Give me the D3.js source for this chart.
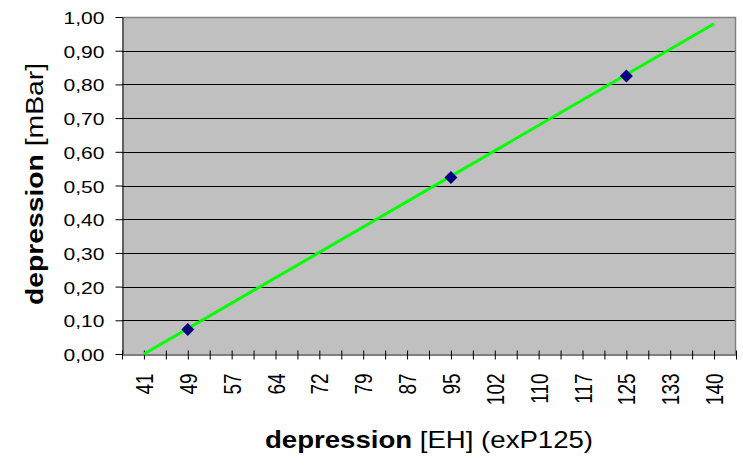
<!DOCTYPE html>
<html>
<head>
<meta charset="utf-8">
<script src="https://cdn.jsdelivr.net/npm/d3@7"></script>
<style>
  html, body { margin: 0; padding: 0; background: #ffffff; }
  svg { display: block; }
  text { font-family: "Liberation Sans", Arial, sans-serif; fill: #000; }
</style>
</head>
<body>
<svg id="chart" width="743" height="465"></svg>
<script>
// ---- data ----
// category slots along the x axis (only every second one carries a label)
const categories = ["", "41", "", "49", "", "57", "", "64", "", "72", "", "79", "", "87", "",
                    "95", "", "102", "", "110", "", "117", "", "125", "", "133", "", "140", ""];
// fitted line (green)
const lineCats = ["41", "140"];
const lineValues = [0.00, 0.98];
// measured points (navy diamonds)
const pointCats = ["49", "95", "125"];
const pointValues = [0.073, 0.524, 0.825];
// y tick values
const yTicks = [0, 0.1, 0.2, 0.3, 0.4, 0.5, 0.6, 0.7, 0.8, 0.9, 1.0];
const xTitleBold = "depression";
const xTitleRest = " [EH] (exP125)";
const yTitleBold = "depression";
const yTitleRest = " [mBar]";

// ---- layout ----
const svg = d3.select("#chart");
const plot = { left: 122, right: 736, top: 17, bottom: 354 };

const x = d3.scalePoint()
  .domain(d3.range(categories.length))
  .range([plot.left, plot.right]);
const y = d3.scaleLinear().domain([0, 1]).range([plot.bottom, plot.top]);
const idx = c => categories.indexOf(c);

const locale = d3.formatLocale({ decimal: ",", thousands: ".", grouping: [3], currency: ["", ""] });
const fmt = locale.format(".2f");

// plot background
svg.append("rect")
  .attr("x", plot.left).attr("y", plot.top)
  .attr("width", plot.right - plot.left).attr("height", plot.bottom - plot.top)
  .attr("fill", "#c0c0c0");

// gridlines
svg.append("g").selectAll("line")
  .data(yTicks.filter(v => v > 0 && v < 1))
  .join("line")
  .attr("x1", plot.left).attr("x2", plot.right)
  .attr("y1", d => Math.round(y(d)) + 0.5).attr("y2", d => Math.round(y(d)) + 0.5)
  .attr("stroke", "#000").attr("stroke-width", 1);

// top and right border (gray)
svg.append("path")
  .attr("d", `M${plot.left},${plot.top + 0.5}H${plot.right - 0.5}V${plot.bottom}`)
  .attr("fill", "none").attr("stroke", "#808080").attr("stroke-width", 1.5);

// y axis
const yAxis = svg.append("g")
  .attr("transform", `translate(${plot.left + 0.5},0)`)
  .call(d3.axisLeft(y).tickValues(yTicks).tickFormat(fmt).tickSize(7).tickSizeOuter(0));
yAxis.select(".domain").attr("stroke", "#000");
yAxis.selectAll(".tick line").attr("stroke", "#000");
yAxis.selectAll(".tick text")
  .attr("x", null).attr("dy", null)
  .attr("text-anchor", "end")
  .attr("transform", "translate(-18,6.5) scale(1.29,1)")
  .style("font-size", "16.3px")
  .style("font-family", '"Liberation Sans", Arial, sans-serif')
  .attr("fill", "#000");

// x axis
const xAxis = svg.append("g")
  .attr("transform", `translate(0,${plot.bottom + 0.5})`)
  .call(d3.axisBottom(x).tickFormat(i => categories[i]).tickSize(5).tickSizeOuter(0));
xAxis.select(".domain").attr("stroke", "#000");
xAxis.selectAll(".tick line").attr("y1", -4).attr("y2", 5).attr("stroke", "#000");
xAxis.selectAll(".tick text")
  .attr("y", null).attr("dy", "0.35em")
  .attr("text-anchor", "end")
  .attr("transform", "translate(0,19) scale(1.29,1) rotate(-90)")
  .style("font-size", "19px")
  .style("font-family", '"Liberation Sans", Arial, sans-serif')
  .attr("fill", "#000");

// green line
const lineData = lineCats.map((c, i) => ({ i: idx(c), v: lineValues[i] }));
svg.append("path")
  .datum(lineData)
  .attr("d", d3.line().x(d => x(d.i)).y(d => y(d.v)))
  .attr("fill", "none").attr("stroke", "#00ff00").attr("stroke-width", 3);

// diamonds
const pts = pointCats.map((c, i) => ({ i: idx(c), v: pointValues[i] }));
svg.append("g").selectAll("path")
  .data(pts)
  .join("path")
  .attr("transform", d => `translate(${x(d.i)},${y(d.v)})`)
  .attr("d", "M0,-6.5L6.5,0L0,6.5L-6.5,0Z")
  .attr("fill", "#000080");

// x title
const xt = svg.append("text")
  .attr("text-anchor", "middle")
  .attr("transform", "translate(429,448) scale(1.2,1)")
  .style("font-size", "23px");
xt.append("tspan").attr("font-weight", "bold").text(xTitleBold);
xt.append("tspan").text(xTitleRest);

// y title
const yt = svg.append("text")
  .attr("text-anchor", "middle")
  .attr("transform", "translate(43,184) rotate(-90) scale(1.18,1)")
  .style("font-size", "24px");
yt.append("tspan").attr("font-weight", "bold").text(yTitleBold);
yt.append("tspan").text(yTitleRest);
</script>
</body>
</html>
